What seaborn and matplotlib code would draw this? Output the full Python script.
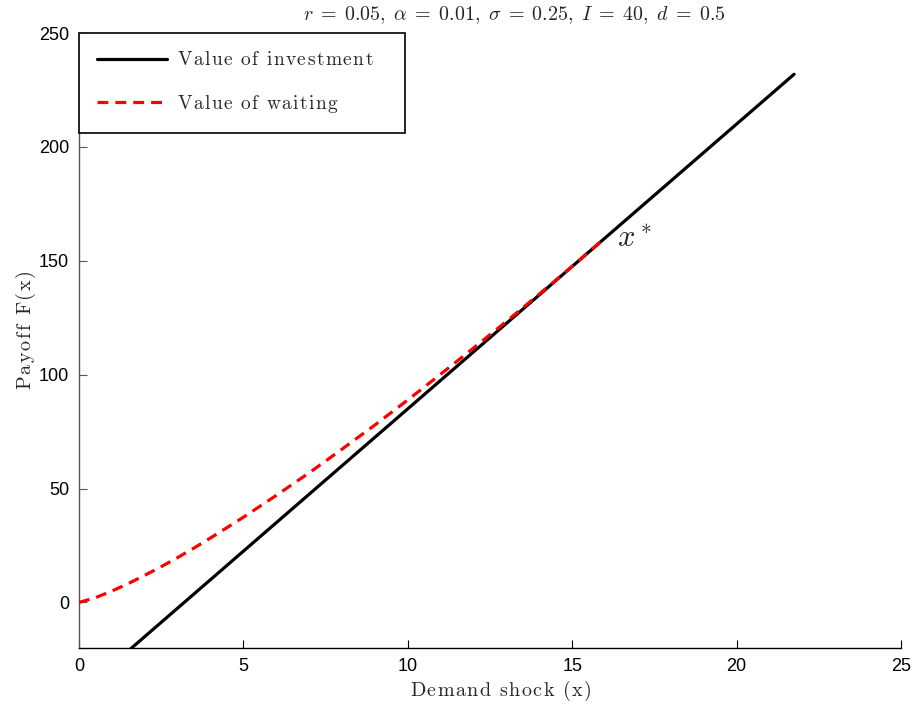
import matplotlib
matplotlib.use("Agg")
import matplotlib.pyplot as plt
import numpy as np
import pandas as pd
import seaborn as sns

# Value of investing now: straight line in the demand shock
invest_x = [0.0, 21.75]
invest_y = [-40.0, 231.9]

# Value of the option to wait, up to the trigger x*
wait_x = [0.0, 0.5, 1.0, 1.5, 2.0, 2.5, 3.0, 3.5, 4.0, 5.0, 6.0, 7.0, 8.0,
          9.0, 10.0, 11.0, 12.0, 13.0, 14.0, 15.0, 16.0]
wait_y = [0.0, 2.1, 5.0, 8.3, 11.9, 15.7, 19.7, 23.9, 28.3, 37.4, 47.0, 56.9,
          67.3, 77.9, 88.9, 100.2, 111.7, 123.4, 135.4, 147.6, 160.0]

trigger_x, trigger_y = 16.0, 160.0

x_ticks = [0, 5, 10, 15, 20, 25]
y_ticks = [0, 50, 100, 150, 200, 250]


def spaced(text, gap=0.09):
    """Roman mathtext with a little extra tracking between letters."""
    parts = []
    for ch in text:
        parts.append(r"\ " if ch == " " else ch)
    sep = r"\hspace{%g}" % gap
    return r"$\mathrm{" + sep.join(parts) + "}$"


sns.set_theme(style="ticks")
plt.rcParams["font.family"] = ["Liberation Sans", "DejaVu Sans"]
plt.rcParams["mathtext.fontset"] = "cm"

invest = pd.DataFrame({"x": invest_x, "F": invest_y})
wait = pd.DataFrame({"x": wait_x, "F": wait_y})

fig = plt.figure(figsize=(9.16, 7.10), dpi=100)
ax = fig.add_axes([0.0862, 0.0873, 0.8974, 0.8662])

sns.lineplot(data=invest, x="x", y="F", ax=ax, color="black", lw=2.3,
             label=spaced("Value of investment", 0.085), sort=False)
sns.lineplot(data=wait, x="x", y="F", ax=ax, color="red", lw=2.3,
             label=spaced("Value of waiting", 0.085), sort=False)
ax.lines[1].set_dashes([3.4, 2.2])
ax.lines[1].set_zorder(3)

ax.set_xlim(0, 25)
ax.set_ylim(-20, 250)
ax.set_xticks(x_ticks)
ax.set_yticks(y_ticks)
ax.tick_params(direction="in", length=6, width=0.8, labelsize=13, pad=7,
               colors="black")
ax.tick_params(axis="y", color="#555555")

for side in ("top", "right"):
    ax.spines[side].set_visible(False)
ax.spines["left"].set_color("#555555")
ax.spines["left"].set_linewidth(1.0)
ax.spines["bottom"].set_color("black")
ax.spines["bottom"].set_linewidth(1.0)

ax.set_xlabel(spaced("Demand shock (x)", 0.08), fontsize=14.5, labelpad=3,
              x=0.513)
ax.set_ylabel(spaced("Payoff F(x)", 0.1), fontsize=14.5, labelpad=1,
              y=0.517)
ax.set_title(r"$r\;=\;0.05,\;\alpha\;=\;0.01,\;\sigma\;=\;0.25,\;I\;=\;40,\;d\;=\;0.5$",
             fontsize=14.4, pad=9, x=0.530)

ax.text(trigger_x + 0.35, trigger_y, r"$x^*$", fontsize=22,
        va="center", ha="left")

leg = ax.legend(loc="upper left", bbox_to_anchor=(0, 1, 0.3966, 0),
                mode="expand", borderaxespad=0, fontsize=14,
                handlelength=3.6, handletextpad=0.5, borderpad=0.95,
                labelspacing=1.2, fancybox=False, framealpha=1)
leg.get_frame().set_edgecolor("black")
leg.get_frame().set_linewidth(1.2)

fig.savefig("out.png", dpi=100)
